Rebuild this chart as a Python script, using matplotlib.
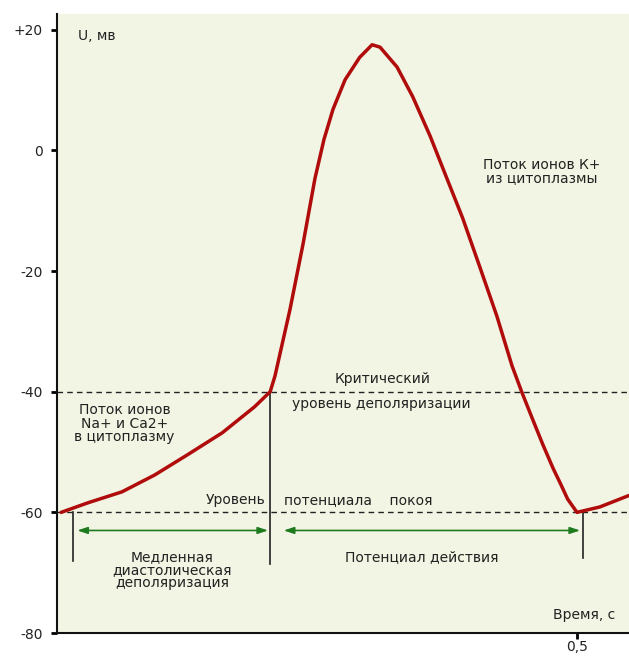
import matplotlib.pyplot as plt
import numpy as np

plt.rcParams['font.family'] = ['DejaVu Sans']

# membrane potential curve (time, s / potential, mV)
time_s = [0.004, 0.030, 0.0625, 0.094, 0.126, 0.159, 0.190, 0.205,
          0.2096, 0.224, 0.2365, 0.248, 0.2567, 0.2654, 0.277, 0.291,
          0.303, 0.3106, 0.327, 0.342, 0.3587, 0.375, 0.390, 0.4067,
          0.423, 0.4375, 0.447, 0.4567, 0.467, 0.477, 0.484, 0.491,
          0.500, 0.522, 0.550]
u_mv = [-60, -58.4, -56.6, -53.8, -50.4, -46.8, -42.5, -40,
        -37.4, -26.4, -15.6, -4.7, 1.8, 6.8, 11.7, 15.4,
        17.5, 17.1, 13.8, 8.9, 2.4, -4.7, -11.2, -19.4,
        -27.5, -35.7, -40.1, -44.3, -48.7, -52.7, -55.2, -57.8,
        -60, -59.1, -57.2]

threshold = -40
rest = -60
t_start = 0.015
t_threshold = 0.205
t_end = 0.506

y_ticks = [20, 0, -20, -40, -60, -80]
y_tick_labels = ['+20', '0', '-20', '-40', '-60', '-80']
x_ticks = [0.5]
x_tick_labels = ['0,5']

bg = '#f2f5e3'
red = '#b00c0c'
green = '#1e7a1e'
txt = '#222222'

fig = plt.figure(figsize=(6.29, 6.59), dpi=100)
ax = fig.add_axes([0.0906, 0.0394, 0.9094, 0.9394])
ax.set_facecolor(bg)
ax.set_xlim(0, 0.55)
ax.set_ylim(-80, 22.6)

for s in ['top', 'right']:
    ax.spines[s].set_visible(False)
for s in ['left', 'bottom']:
    ax.spines[s].set_linewidth(1.5)
    ax.spines[s].set_color('#111111')

ax.set_yticks(y_ticks)
ax.set_yticklabels(y_tick_labels)
ax.set_xticks(x_ticks)
ax.set_xticklabels(x_tick_labels)
ax.tick_params(direction='out', length=4, width=2, labelsize=10,
               labelcolor=txt)
ax.tick_params(axis='y', pad=6)
ax.tick_params(axis='x', pad=1)

# levels
ax.axhline(threshold, color='#222222', lw=1, ls=(0, (4, 3)))
ax.axhline(rest, color='#222222', lw=1, ls=(0, (4, 3)))

# vertical markers
ax.plot([t_start, t_start], [rest, -68], color='#222222', lw=1.2)
ax.plot([t_threshold, t_threshold], [threshold, -68.5], color='#222222', lw=1.2)
ax.plot([t_end, t_end], [rest, -67.5], color='#222222', lw=1.2)

# curve
ax.plot(time_s, u_mv, color=red, lw=2.5, solid_capstyle='round',
        solid_joinstyle='round', zorder=5)

# arrows
arrow_y = -63
for a, b in [(0.0195, 0.203), (0.218, 0.503)]:
    ax.annotate('', xy=(a, arrow_y), xytext=(b, arrow_y),
                arrowprops=dict(arrowstyle='<|-|>,head_length=0.6,head_width=0.2',
                                color=green, lw=1.2, shrinkA=0, shrinkB=0))

fs = 10
ax.text(0.02, 19, 'U, мв', fontsize=fs, color=txt, ha='left', va='center')
ax.text(0.466, -3.5, 'Поток ионов К+\nиз цитоплазмы', fontsize=fs, color=txt,
        ha='center', va='center', linespacing=0.95)
ax.text(0.313, -37.9, 'Критический', fontsize=fs, color=txt, ha='center', va='center')
ax.text(0.312, -42.1, 'уровень деполяризации', fontsize=fs, color=txt,
        ha='center', va='center')
ax.text(0.065, -45.3, 'Поток ионов\nNa+ и Ca2+\nв цитоплазму', fontsize=fs,
        color=txt, ha='center', va='center', linespacing=0.95)
ax.text(0.200, -57.9, 'Уровень', fontsize=fs, color=txt, ha='right', va='center')
ax.text(0.218, -57.9, 'потенциала    покоя', fontsize=fs, color=txt,
        ha='left', va='center')
ax.text(0.111, -69.6, 'Медленная\nдиастолическая\nдеполяризация', fontsize=fs,
        color=txt, ha='center', va='center', linespacing=0.9)
ax.text(0.351, -67.4, 'Потенциал действия', fontsize=fs, color=txt,
        ha='center', va='center')
ax.text(0.537, -77, 'Время, с', fontsize=fs, color=txt, ha='right', va='center')

fig.savefig('out.png', dpi=100)
